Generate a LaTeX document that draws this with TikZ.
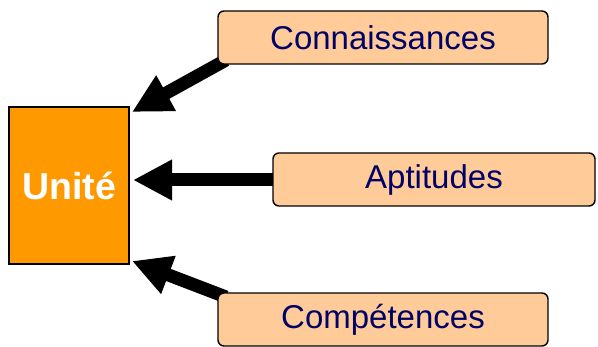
\documentclass[tikz,border=0pt]{standalone}
\usepackage{fontspec}
\setmainfont{Liberation Sans}
\usetikzlibrary{arrows.meta}
\definecolor{peach}{HTML}{FFCC99}
\definecolor{orangebox}{HTML}{FF9900}
\definecolor{navytext}{HTML}{000066}
\begin{document}
\begin{tikzpicture}[x=1pt,y=-1pt,
  itembox/.style={draw=black, line width=1.4pt, fill=peach, rounded corners=6pt,
    minimum width=330pt, minimum height=53pt, inner sep=0pt,
    text=navytext, font=\fontsize{33}{38}\selectfont},
  unitbox/.style={draw=black, line width=1.4pt, fill=orangebox,
    minimum width=120pt, minimum height=157pt, inner sep=0pt,
    text=white, font=\fontsize{37.5}{42}\selectfont\bfseries},
  bigarrow/.style={line width=13pt, -{Triangle[length=39pt,width=38pt]}}]
\useasboundingbox (0,0) rectangle (598,347);
\coordinate (t1) at (132,112);
\coordinate (t2) at (133,180);
\coordinate (t3) at (132,261);
\coordinate (s1) at (226,60);
\coordinate (s2) at (280,180);
\coordinate (s3) at (226,297);
\draw[bigarrow] (s1) -- (t1);
\draw[bigarrow] (s2) -- (t2);
\draw[bigarrow] (s3) -- (t3);
\node[unitbox] (unite) at (69,185.5) {Unité};
\node[itembox] (conn) at (383,37.5) {Connaissances};
\node[itembox, minimum width=322pt] (apt) at (434,179.5) {Aptitudes};
\node[itembox] (comp) at (383,319.5) {Compétences};
\end{tikzpicture}
\end{document}
